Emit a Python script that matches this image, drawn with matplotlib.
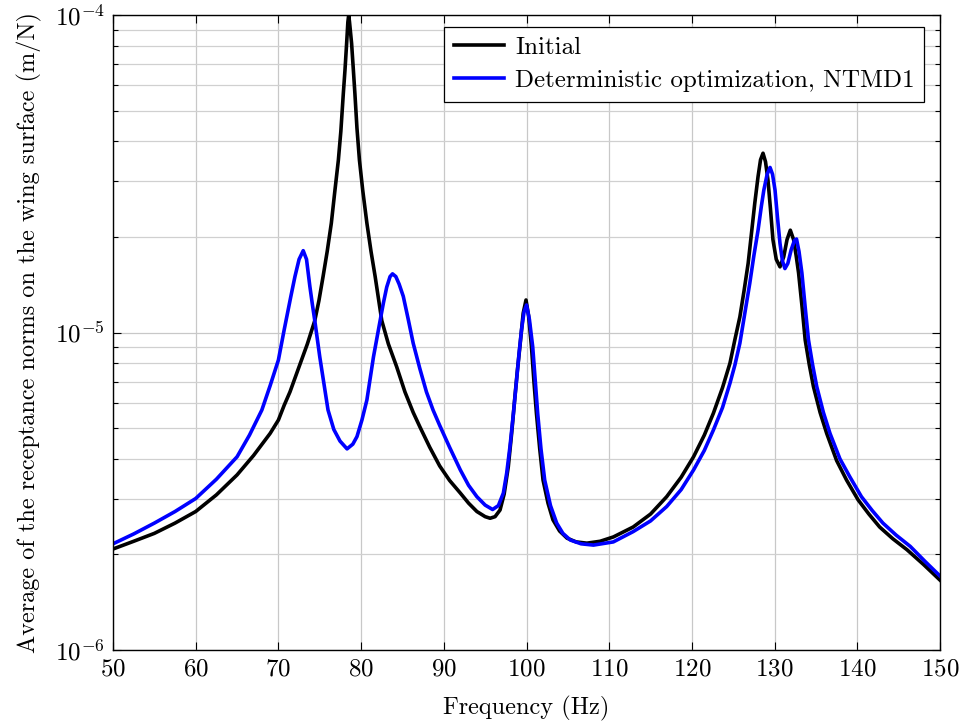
import numpy as np
import matplotlib
matplotlib.use('Agg')
import matplotlib.pyplot as plt


# values, receptance in units of 1e-6 m/N
f_initial = [50, 52.5, 55, 57.5, 60, 62.5, 65, 67, 69, 70, 70.7, 71.4, 72.5, 73.5, 74.4, 74.9,
             75.4, 75.9, 76.4, 76.8, 77.25, 77.55, 77.85, 78.05, 78.25, 78.4, 78.5, 78.6,
             78.85, 79.05, 79.25, 79.5, 79.8, 80.2, 80.7, 81.2, 81.7, 82.5, 83.3, 84.3, 85.3,
             86.3, 87.1, 88.3, 89.5, 90.7, 92.0, 93.0, 94.0, 95.0, 95.6, 96.2, 96.8, 97.3,
             97.8, 98.2, 98.6, 98.9, 99.2, 99.6, 99.94, 100.25, 100.6, 100.9, 101.2, 101.6,
             102.0, 102.6, 103.2, 104.0, 104.9, 106.0, 107.3, 108.9, 110.5, 112.9, 115.0,
             116.95, 118.7, 120.2, 121.5, 122.6, 123.7, 124.6, 125.2, 125.8, 126.3, 126.8,
             127.2, 127.6, 128.0, 128.3, 128.6, 128.9, 129.2, 129.5, 129.8, 130.2, 130.65,
             131.1, 131.5, 131.9, 132.3, 132.6, 132.9, 133.3, 133.7, 134.2, 134.7, 135.5,
             136.3, 137.5, 138.7, 140.1, 141.4, 142.7, 144.3, 146.0, 148.0, 150]
r_initial = [2.08, 2.2, 2.33, 2.51, 2.73, 3.08, 3.56, 4.1, 4.81, 5.30, 5.9, 6.5, 7.8, 9.2, 10.9, 12.6,
             15.0, 18.0, 22.1, 27.5, 34.9, 43, 56.6, 67, 81.4, 95, 100, 95,
             81.4, 68, 56.6, 44, 34.9, 28, 22.1, 18, 15.0, 10.9, 9.2, 7.8, 6.5,
             5.6, 5.05, 4.35, 3.8, 3.42, 3.12, 2.9, 2.73, 2.63, 2.60, 2.63, 2.76, 3.1,
             3.78, 4.8, 6.28, 7.6, 9.02, 11.5, 12.66, 11.3, 9.02, 7.0, 5.57, 4.3,
             3.43, 2.9, 2.57, 2.37, 2.25, 2.19, 2.17, 2.2, 2.27, 2.44, 2.68,
             3.04, 3.5, 4.06, 4.75, 5.57, 6.7, 8.0, 9.5, 11.2, 13.5, 16.5,
             20.5, 25.5, 31, 35, 36.7, 34.5, 30.2, 24.5, 19.6, 17.0, 16.1,
             17.3, 19.6, 21.0, 19.6, 17.5, 15.4, 12.2, 9.47, 7.9, 6.75, 5.6,
             4.81, 3.95, 3.43, 2.97, 2.68, 2.44, 2.24, 2.07, 1.86, 1.66]

f_ntmd1 = [50, 52.5, 55, 57.5, 60, 62.5, 65, 66.5, 68, 69, 70, 70.7, 71.5, 72.0, 72.5, 73.0,
           73.4, 73.8, 74.1, 74.4, 75.0, 76.0, 76.7, 77.45, 78.3, 79.0, 79.5, 80.1, 80.7,
           81.5, 82.3, 82.7, 83.1, 83.5, 83.8, 84.2, 84.6, 85.1, 85.7, 86.3, 87.1, 87.9,
           88.7, 89.5, 90.7, 92.0, 93.0, 94.0, 95.0, 95.9, 96.6, 97.2, 97.6, 98.0, 98.4,
           98.8, 99.1, 99.4, 99.7, 100.0, 100.35, 100.75, 101.05, 101.35, 101.75, 102.2,
           102.9, 103.65, 104.4, 105.3, 106.6, 108.1, 110.5, 112.9, 115.0, 116.95, 118.7,
           120.2, 121.5, 122.6, 123.7, 124.6, 125.2, 125.8, 126.4, 127.0, 127.5, 128.0,
           128.4, 128.7, 129.1, 129.45, 129.75, 130.05, 130.35, 130.65, 130.95, 131.25,
           131.6, 132.0, 132.4, 132.65, 132.95, 133.3, 133.7, 134.1, 134.6, 135.1, 135.9,
           136.7, 137.9, 139.1, 140.5, 141.8, 143.1, 144.7, 146.4, 148.2, 150]
r_ntmd1 = [2.16, 2.32, 2.51, 2.73, 3.00, 3.45, 4.06, 4.75, 5.70, 6.8, 8.19, 10.2, 12.97, 15.0, 17.0, 18.1,
           17.0, 14.0, 12.3, 10.9, 8.39, 5.70, 4.95, 4.55, 4.3, 4.45, 4.7, 5.3, 6.13,
           8.39, 10.9, 12.4, 13.9, 15.0, 15.3, 15.0, 14.2, 13.0, 11.0, 9.25, 7.7, 6.5,
           5.7, 5.1, 4.35, 3.69, 3.3, 3.04, 2.86, 2.77, 2.85, 3.12, 3.6, 4.37, 5.5,
           7.08, 8.6, 10.2, 11.6, 12.21, 11.0, 9.02, 7.1, 5.57, 4.3, 3.43,
           2.85, 2.51, 2.33, 2.22, 2.16, 2.14, 2.19, 2.36, 2.55, 2.83, 3.2,
           3.69, 4.25, 4.93, 5.8, 6.92, 7.9, 9.25, 11.5, 14.3, 17.5, 21.0,
           25, 28.1, 31.5, 33.1, 31.5, 28.1, 23, 19.1, 16.8, 15.9,
           16.5, 18.2, 19.5, 19.7, 18.0, 15.4, 12.0, 9.47, 7.9, 6.75, 5.6,
           4.81, 4.0, 3.51, 3.04, 2.75, 2.51, 2.3, 2.12, 1.9, 1.71]

labels = ['Initial', 'Deterministic optimization, NTMD1']

plt.rcParams['font.family'] = 'cmr10'
plt.rcParams['mathtext.fontset'] = 'cm'
plt.rcParams['axes.formatter.use_mathtext'] = True
plt.rcParams['font.size'] = 18

fig = plt.figure(figsize=(9.63, 7.26), dpi=100)
ax = fig.add_axes([113/963, 1 - 650/726, 827/963, 635/726])

ax.plot(f_initial, np.array(r_initial)*1e-6, color='black', lw=2.6, label=labels[0])
ax.plot(f_ntmd1, np.array(r_ntmd1)*1e-6, color='blue', lw=2.6, label=labels[1])

ax.set_yscale('log')
ax.set_xlim(50, 150)
ax.set_ylim(1e-6, 1e-4)
ax.set_xticks(np.arange(50, 151, 10))

ax.grid(True, which='major', color='#c8c8c8', lw=0.9)
ax.grid(True, which='minor', axis='y', color='#d0d0d0', lw=0.9)
ax.set_axisbelow(True)
ax.tick_params(which='both', direction='in', top=True, right=True, width=0.8)
ax.tick_params(which='major', length=6, labelsize=18, pad=6)
ax.tick_params(which='minor', length=3.5)
for s in ax.spines.values():
    s.set_linewidth(1.0)

ax.set_xlabel('Frequency (Hz)', fontsize=17.5, labelpad=11)
ax.set_ylabel('Average of the receptance norms on the wing surface (m/N)', fontsize=17.5, labelpad=9)

leg = ax.legend(loc='upper right', bbox_to_anchor=(0.9807, 0.981), borderaxespad=0,
                fancybox=False, framealpha=1, edgecolor='black', fontsize=18,
                handlelength=2.0, handletextpad=0.45, borderpad=0.38, labelspacing=0.42)
leg.get_frame().set_linewidth(0.9)

fig.savefig('out.png', dpi=100)
